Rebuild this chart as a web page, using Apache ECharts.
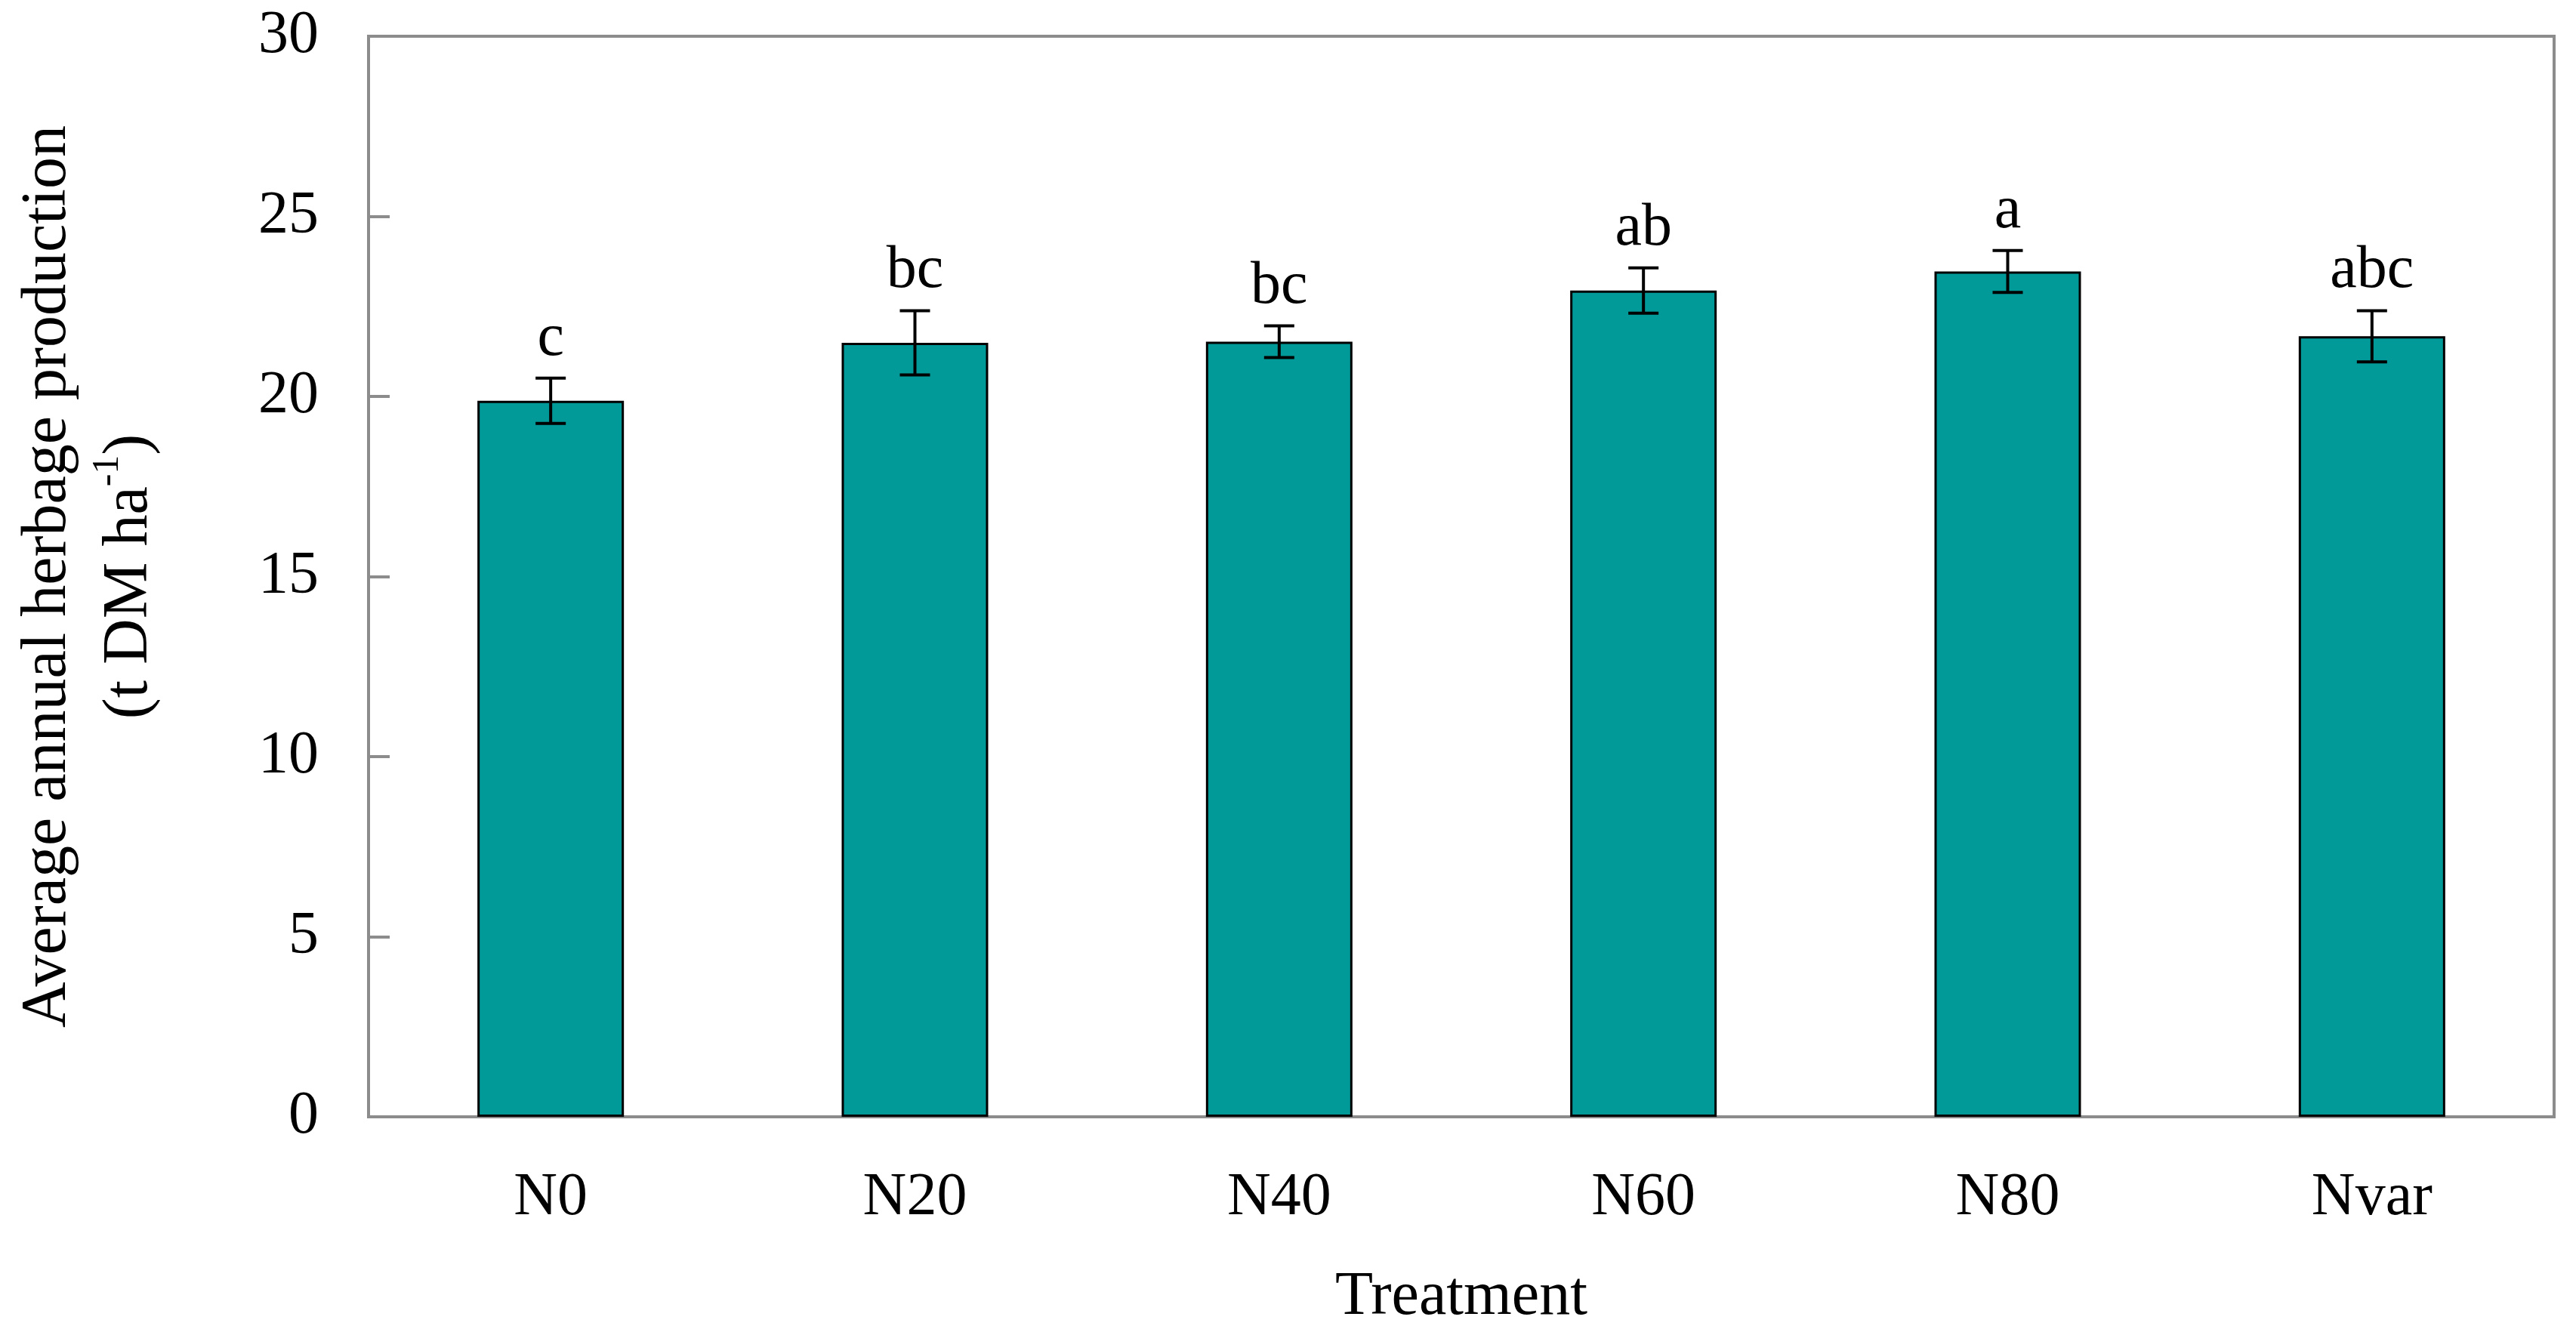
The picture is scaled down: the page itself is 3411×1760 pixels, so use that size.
<!DOCTYPE html>
<html>
<head>
<meta charset="utf-8">
<script src="https://cdn.jsdelivr.net/npm/echarts@6/dist/echarts.min.js"></script>
<style>
html,body{margin:0;padding:0;background:#fff;}
#chart{width:3411px;height:1760px;}
</style>
</head>
<body>
<div id="chart"></div>
<script>
const categories = ['N0', 'N20', 'N40', 'N60', 'N80', 'Nvar'];
const means = [19.88, 21.49, 21.52, 22.94, 23.47, 21.67];
const errors = [0.63, 0.89, 0.44, 0.63, 0.58, 0.71];
const letters = ['c', 'bc', 'bc', 'ab', 'a', 'abc'];

const FONT = '"Liberation Serif", "Times New Roman", serif';
const AXIS_GREY = '#8c8c8c';
const FS = 80;

const chart = echarts.init(document.getElementById('chart'), null, {renderer: 'canvas'});

const errData = categories.map((c, i) => [i, means[i], errors[i]]);

const option = {
  backgroundColor: '#ffffff',
  animation: false,
  grid: {
    left: 488, right: 29, top: 48, bottom: 281,
    containLabel: false, outerBoundsMode: 'none',
    show: true, borderColor: AXIS_GREY, borderWidth: 4, backgroundColor: 'transparent'
  },
  xAxis: {
    type: 'category',
    data: categories,
    name: 'Treatment',
    nameLocation: 'middle',
    nameGap: 198,
    nameTextStyle: {fontFamily: FONT, fontSize: 82, color: '#000'},
    axisLine: {lineStyle: {color: AXIS_GREY, width: 4}},
    axisTick: {inside: true, length: 26, lineStyle: {color: AXIS_GREY, width: 4}},
    axisLabel: {fontFamily: FONT, fontSize: FS, color: '#000', margin: 68},
    splitLine: {show: false}
  },
  yAxis: {
    type: 'value',
    min: 0, max: 30, interval: 5,
    name: 'Average annual herbage production\n(t DM ha{sup|-1})',
    nameLocation: 'middle',
    nameGap: 262,
    nameTextStyle: {
      fontFamily: FONT, fontSize: 84, color: '#000', lineHeight: 108, align: 'center',
      rich: {sup: {fontFamily: FONT, fontSize: 50, verticalAlign: 'top', lineHeight: 108, padding: [0,0,30,0]}}
    },
    axisLine: {show: true, lineStyle: {color: AXIS_GREY, width: 4}},
    axisTick: {show: true, inside: true, length: 28, lineStyle: {color: AXIS_GREY, width: 4}},
    axisLabel: {fontFamily: FONT, fontSize: FS, color: '#000', margin: 66},
    splitLine: {show: false}
  },
  series: [
    {
      type: 'bar',
      data: means,
      barWidth: 194,
      itemStyle: {color: '#029a98', borderColor: '#000', borderWidth: 3}
    },
    {
      type: 'custom',
      data: errData,
      z: 10,
      renderItem: function (params, api) {
        const i = api.value(0), m = api.value(1), e = api.value(2);
        const top = api.coord([i, m + e]);
        const bot = api.coord([i, m - e]);
        const half = 20;
        const style = {stroke: '#000', lineWidth: 4};
        return {
          type: 'group',
          children: [
            {type: 'line', shape: {x1: top[0], y1: top[1], x2: bot[0], y2: bot[1]}, style: style},
            {type: 'line', shape: {x1: top[0] - half, y1: top[1], x2: top[0] + half, y2: top[1]}, style: style},
            {type: 'line', shape: {x1: bot[0] - half, y1: bot[1], x2: bot[0] + half, y2: bot[1]}, style: style},
            {type: 'text', x: top[0], y: top[1] - 12,
              style: {text: letters[params.dataIndex], fill: '#000', font: FS + 'px ' + FONT,
                      textAlign: 'center', textVerticalAlign: 'bottom'}}
          ]
        };
      }
    }
  ]
};
chart.setOption(option);
</script>
</body>
</html>
